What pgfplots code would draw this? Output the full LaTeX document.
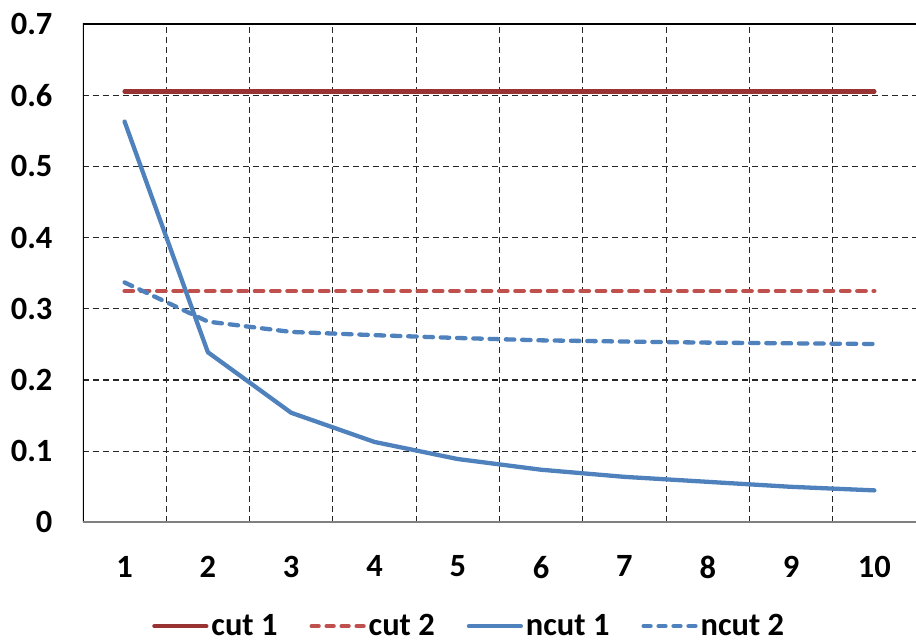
\documentclass[border=0pt]{standalone}
\usepackage{fontspec}
\setmainfont{Carlito}
\usepackage{pgfplots}
\pgfplotsset{compat=1.18}
\definecolor{cutA}{RGB}{153,51,51}
\definecolor{cutB}{RGB}{192,80,77}
\definecolor{ncut}{RGB}{79,129,189}
\pgfplotsset{dashleg/.style={legend image code/.code={\draw[##1, dash pattern=on 7pt off 8pt] (0pt,0pt) -- (52pt,0pt);}}}
\begin{document}
\begin{tikzpicture}
\begin{axis}[name=ax, scale only axis, width=834pt, height=499pt,
  xmin=0.5, xmax=10.5, ymin=0, ymax=0.7,
  xtick={1,2,3,4,5,6,7,8,9,10},
  ytick={0,0.1,0.2,0.3,0.4,0.5,0.6,0.7},
  minor xtick={1.5,2.5,3.5,4.5,5.5,6.5,7.5,8.5,9.5},
  xminorgrids, ymajorgrids,
  major tick length=0pt, minor tick length=0pt,
  grid style={black!85, line width=1.1pt, dash pattern=on 6pt off 4pt},
  minor grid style={black!85, line width=1.1pt, dash pattern=on 6pt off 4pt},
  axis line style={draw=none},
  tick label style={font=\fontsize{32.5}{38}\selectfont\bfseries},
  /pgf/number format/assume math mode=true,
  yticklabel style={/pgf/number format/fixed, /pgf/number format/precision=1, xshift=-27pt},
  xticklabel style={yshift=-30pt},
  legend columns=4,
  legend style={at={(axis description cs:0.083,-0.208)}, anchor=west, draw=none, fill=none, inner sep=0pt,
    font=\fontsize{32.5}{38}\selectfont\bfseries,
    nodes={inner sep=3pt},
    /tikz/every even column/.append style={column sep=29pt}},
  legend image code/.code={\draw[#1] (0pt,0pt) -- (52pt,0pt);},
]
\addplot[cutA, line width=4.3pt, line cap=round] coordinates {(1,0.605) (2,0.605) (3,0.605) (4,0.605) (5,0.605) (6,0.605) (7,0.605) (8,0.605) (9,0.605) (10,0.605)};
\addlegendentry{cut 1}
\addplot[cutB, line width=4.3pt, line cap=round, dash pattern=on 8.5pt off 7.8pt, dashleg] coordinates {(1,0.325) (2,0.325) (3,0.325) (4,0.325) (5,0.325) (6,0.325) (7,0.325) (8,0.325) (9,0.325) (10,0.325)};
\addlegendentry{cut 2}
\addplot[ncut, line width=4.3pt, line cap=round, line join=round] coordinates {(1,0.563) (2,0.239) (3,0.154) (4,0.113) (5,0.089) (6,0.074) (7,0.064) (8,0.057) (9,0.050) (10,0.045)};
\addlegendentry{ncut 1}
\addplot[ncut, line width=4.3pt, line cap=round, line join=round, dash pattern=on 8.5pt off 7.8pt, dashleg] coordinates {(1,0.337) (2,0.282) (3,0.2675) (4,0.263) (5,0.259) (6,0.2557) (7,0.254) (8,0.2525) (9,0.2515) (10,0.2506)};
\addlegendentry{ncut 2}
\draw[black, line width=1.2pt] (rel axis cs:0,0) -- (rel axis cs:0,1) -- (rel axis cs:1,1);
\draw[black!50, line width=3pt] (rel axis cs:0,0) -- (rel axis cs:1,0);
\end{axis}
\pgfresetboundingbox
\path ([shift={(-83pt,-117pt)}]ax.south west) rectangle ([shift={(0pt,24pt)}]ax.north east);
\end{tikzpicture}
\end{document}
